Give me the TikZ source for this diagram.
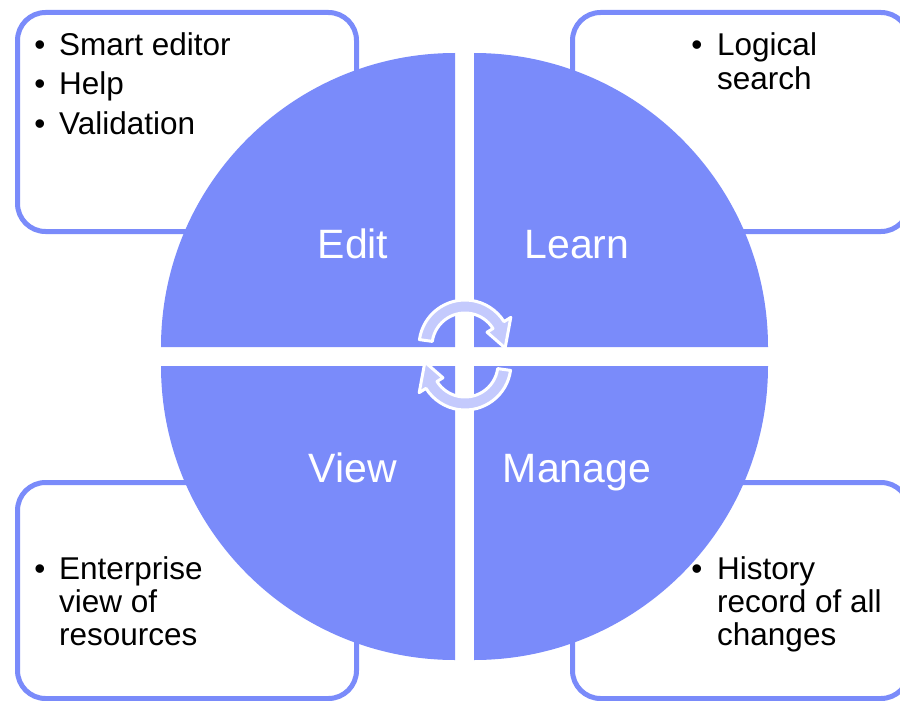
\documentclass[tikz,border=0pt]{standalone}
\usepackage{fontspec}
\setmainfont{Liberation Sans}
\usetikzlibrary{calc}
\definecolor{qblue}{RGB}{122,139,250}
\definecolor{alav}{RGB}{196,202,253}
\tikzset{
  infobox/.style={draw=qblue, line width=5pt, fill=white, rounded corners=28pt},
  quad/.style={fill=qblue},
  cyclearrow/.style={fill=alav, draw=white, line width=3pt, line join=round},
  qlabel/.style={font=\fontsize{41}{49}\selectfont, text=white, anchor=base, inner sep=0pt},
  btext/.style={font=\fontsize{31.5}{33}\selectfont, text=black, anchor=base west, inner sep=0pt},
  bdot/.style={font=\fontsize{31.5}{33}\selectfont, text=black, anchor=base, inner sep=0pt},
}
\begin{document}
\begin{tikzpicture}[x=1pt,y=1pt]
\useasboundingbox (0,0) rectangle (900,-701);
\clip (0,0) rectangle (900,-701);
% info boxes
\draw[infobox] (17.5,-12.5) rectangle (356.5,-231.5);
\draw[infobox] (572.5,-12.5) rectangle (909,-231.5);
\draw[infobox] (17.5,-482.5) rectangle (356.5,-698.5);
\draw[infobox] (572.5,-482.5) rectangle (909,-698.5);
% quadrants
\fill[quad] (455,-347) -- (161,-347) arc[start angle=180,end angle=90,radius=294] -- cycle;
\fill[quad] (474,-347) -- (474,-53) arc[start angle=90,end angle=0,radius=294] -- cycle;
\fill[quad] (455,-366) -- (455,-660) arc[start angle=270,end angle=180,radius=294] -- cycle;
\fill[quad] (474,-366) -- (768,-366) arc[start angle=0,end angle=-90,radius=294] -- cycle;
% cycle arrows
\foreach \rot in {0,180}{
\begin{scope}[shift={(465,-355)}, rotate=\rot]
\filldraw[cyclearrow] ($(0,9)+(172:46)$) arc[start angle=172,end angle=32,radius=46]
  -- ($(0,9)+(32:54)$) -- ($(0,9)+(32:40)+(-75:24)$) -- ($(0,9)+(32:26)$)
  -- ($(0,9)+(32:33)$) arc[start angle=32,end angle=172,radius=33] -- cycle;
\end{scope}
}
% quadrant labels
\node[qlabel] (edit) at (353,-258) {Edit};
\node[qlabel] (learn) at (577,-258) {Learn};
\node[qlabel] (view) at (353,-482) {View};
\node[qlabel] (manage) at (577,-482) {Manage};
% top-left list
\node[bdot] (b1) at (40,-56) {•};
\node[btext] (t1) at (59,-56) {Smart editor};
\node[bdot] (b2) at (40,-95) {•};
\node[btext] (t2) at (59,-95) {Help};
\node[bdot] (b3) at (40,-134) {•};
\node[btext] (t3) at (59,-134) {Validation};
% top-right list
\node[bdot] (b4) at (697,-56) {•};
\node[btext] (t4a) at (717,-56) {Logical};
\node[btext] (t4b) at (717,-89) {search};
% bottom-left list
\node[bdot] (b5) at (40,-579) {•};
\node[btext] (t5a) at (59,-579) {Enterprise};
\node[btext] (t5b) at (59,-612) {view of};
\node[btext] (t5c) at (59,-645) {resources};
% bottom-right list
\node[bdot] (b6) at (697,-579) {•};
\node[btext] (t6a) at (717,-579) {History};
\node[btext] (t6b) at (717,-612) {record of all};
\node[btext] (t6c) at (717,-645) {changes};
\end{tikzpicture}
\end{document}
